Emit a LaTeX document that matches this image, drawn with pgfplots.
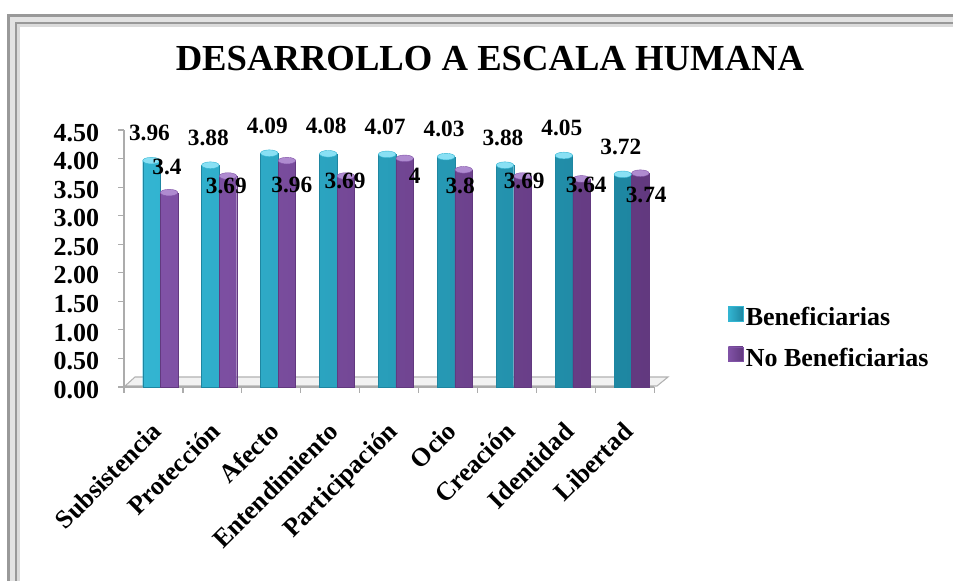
\documentclass[border=0pt]{standalone}
\usepackage{fontspec}
\setmainfont{Liberation Serif}
\usepackage{pgfplots}
\pgfplotsset{compat=1.18}
\usepackage{pgfplotstable}
\usetikzlibrary{shapes.geometric}

\definecolor{tealL}{HTML}{62D6F0}
\definecolor{tealM}{HTML}{33B5D2}
\definecolor{tealD}{HTML}{1E86A1}
\definecolor{purL}{HTML}{A177C8}
\definecolor{purM}{HTML}{8052A6}
\definecolor{purD}{HTML}{62397F}

\pgfplotstableread{
x b n dxn dyn
0 3.96 3.40 -2 -26
1 3.88 3.69 -1.6 9.5
2 4.09 3.96 5 24
3 4.08 3.69 -0.7 4.7
4 4.07 4.00 10 17
5 4.03 3.80 -3.5 16.5
6 3.88 3.69 1.6 4.7
7 4.05 3.64 4.7 5.8
8 3.72 3.74 5.8 21.6
}\datatable

\pgfplotsset{/pgf/number format/assume math mode=true}

\begin{document}
\begin{tikzpicture}
\useasboundingbox (0,0) rectangle (714.75pt,435.75pt);
\begin{scope}[x=0.75pt,y=-0.75pt,yshift=435.75pt]
  % frame
  \draw[line width=2.25pt, gray!80] (8.7,15.3) rectangle (990,620);
  \draw[line width=3.75pt, gray!22] (12.6,19.3) rectangle (985,615);
  \draw[line width=1.8pt, gray!80] (16.2,22.9) rectangle (980,610);
  \draw[line width=2.25pt, gray!28] (18.9,25.6) rectangle (975,605);
  % floor
  \filldraw[fill=gray!10, draw=gray!60, line width=0.8pt] (125,386) -- (135,377) -- (668,377) -- (657,386) -- cycle;
  % title
  \node[anchor=base, inner sep=0pt, font=\fontsize{27.5}{33}\selectfont\bfseries] at (490,71) {DESARROLLO A ESCALA HUMANA};
\end{scope}

\begin{axis}[
  at={(93pt,145.5pt)}, anchor=south west,
  scale only axis, width=397.7pt, height=192.75pt,
  xmin=-0.5, xmax=8.5, ymin=0, ymax=4.5,
  clip=false,
  ybar, bar width=13.1pt,
  axis x line*=bottom, axis y line*=left,
  axis line style={draw=gray!65, line width=0.9pt, -},
  tick align=outside,
  major tick length=4.5pt,
  tick style={draw=gray!65, line width=0.9pt},
  xtick={-0.5,0.5,...,8.5}, xticklabels={},
  extra x ticks={0,1,2,3,4,5,6,7,8},
  extra x tick labels={Subsistencia,Protección,Afecto,Entendimiento,Participación,Ocio,Creación,Identidad,Libertad},
  extra x tick style={major tick length=0pt,
    xticklabel style={yshift=-25pt, xshift=-2.5pt, rotate=45, anchor=north east, inner sep=0pt,
      font=\fontsize{19.5}{23}\selectfont\bfseries}},
  ytick={0,0.5,1,1.5,2,2.5,3,3.5,4,4.5},
  yticklabel style={anchor=east, inner sep=0pt, xshift=-14pt, yshift=-2pt,
    font=\fontsize{19.5}{23}\selectfont\bfseries,
    /pgf/number format/.cd, fixed, fixed zerofill, precision=2},
  legend style={at={(1.139,0.1907)}, anchor=west, draw=none, fill=none, inner sep=0pt,
    font=\fontsize{19.5}{23}\selectfont\bfseries, row sep=11pt},
  legend cell align=left,
]
% bars
\addplot[bar shift=-1.5pt, draw=tealD, line width=0.3pt,
  left color=tealM, middle color=tealL, right color=tealD,
  legend image code/.code={\fill[tealM] (0pt,-2.5pt) rectangle (10.9pt,8.4pt);}]
  table[x=x,y=b]{\datatable};
\addplot[forget plot, draw=none, fill=none, bar shift=-1.5pt, nodes near coords={},
  every node near coord/.append style={ellipse, inner sep=0pt, minimum width=13.1pt, minimum height=5pt,
    fill=tealL!75!white, draw=tealM, line width=0.3pt, yshift=-2.5pt}]
  table[x=x,y=b]{\datatable};
\addplot[bar shift=11.7pt, draw=purD, line width=0.3pt,
  left color=purM, middle color=purL, right color=purD,
  legend image code/.code={\fill[purM] (0pt,-2.5pt) rectangle (10.9pt,8.4pt);}]
  table[x=x,y=n]{\datatable};
\addplot[forget plot, draw=none, fill=none, bar shift=11.7pt, nodes near coords={},
  every node near coord/.append style={ellipse, inner sep=0pt, minimum width=13.1pt, minimum height=5pt,
    fill=purL!85!white, draw=purM, line width=0.3pt, yshift=-2.5pt}]
  table[x=x,y=n]{\datatable};
% labels
\addplot[forget plot, draw=none, fill=none, bar shift=-1.5pt, nodes near coords,
  every node near coord/.append style={font=\fontsize{17.5}{21}\selectfont\bfseries, inner sep=0pt,
    text=black, xshift=-1.5pt, yshift=14.7pt}]
  table[x=x,y=b]{\datatable};
\addplot[forget plot, draw=none, fill=none, bar shift=11.7pt, nodes near coords,
  visualization depends on={\thisrow{dxn} \as \ldx},
  visualization depends on={\thisrow{dyn} \as \ldy},
  every node near coord/.append style={font=\fontsize{17.5}{21}\selectfont\bfseries, inner sep=0pt,
    text=black, xshift={0.75pt*\ldx}, yshift={-0.75pt*(\ldy+7.9)}}]
  table[x=x,y=n]{\datatable};
\legend{Beneficiarias, No Beneficiarias}
\end{axis}
\end{tikzpicture}
\end{document}
